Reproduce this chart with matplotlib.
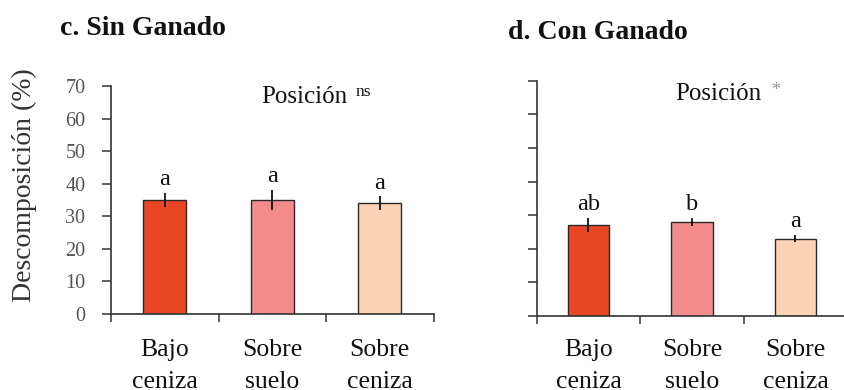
import matplotlib
matplotlib.use("Agg")
import matplotlib.pyplot as plt
import matplotlib.transforms as mtransforms

# Data
categories = ["Bajo\nceniza", "Sobre\nsuelo", "Sobre\nceniza"]
sin_ganado_mean = [35, 35, 34]
sin_ganado_err = [2.1, 3.0, 2.1]
sin_ganado_letters = ["a", "a", "a"]
con_ganado_mean = [27, 28, 23]
con_ganado_err = [2.1, 1.1, 1.1]
con_ganado_letters = ["ab", "b", "a"]
y_ticks = [0, 10, 20, 30, 40, 50, 60, 70]
bar_colors = ["#E94623", "#F28C8C", "#FBD3B4"]

W, H = 844, 390
FONT = "Liberation Serif"
plt.rcParams["font.family"] = [FONT, "DejaVu Serif"]

fig = plt.figure(figsize=(W / 100, H / 100), dpi=100)
fig.patch.set_facecolor("white")


def fx(px):
    return px / W


def fy(py):
    return 1 - py / H


def panel(left, top, bottom, right, means, errs, letters, show_labels):
    ax = fig.add_axes([fx(left), fy(bottom), fx(right) - fx(left), fy(top) - fy(bottom)])
    x = list(range(len(categories)))
    ax.bar(x, means, width=0.4, color=bar_colors, edgecolor="#2a2a2a",
           linewidth=1.0, zorder=2)
    ax.errorbar(x, means, yerr=errs, fmt="none", ecolor="#111111",
                elinewidth=1.3, capsize=0, zorder=3)
    for xi, m, e, lab in zip(x, means, errs, letters):
        ax.annotate(lab, (xi, m + e), xytext=(0, 2), textcoords="offset points",
                    ha="center", va="bottom", fontsize=17.5, color="#111111")
    ax.set_xlim(-0.5, 2.5)
    ax.set_ylim(0, 70)
    for s in ("top", "right"):
        ax.spines[s].set_visible(False)
    for s in ("left", "bottom"):
        ax.spines[s].set_color("#333333")
        ax.spines[s].set_linewidth(1.2)
    ax.set_yticks(y_ticks)
    if show_labels:
        ax.set_yticklabels([str(v) for v in y_ticks], fontsize=14.5, color="#555555")
    else:
        ax.set_yticklabels([])
    ax.tick_params(axis="y", direction="out", length=6.5, width=1.1, color="#333333", pad=12)
    ax.set_xticks([-0.5, 0.5, 1.5, 2.5])
    ax.set_xticklabels([])
    ax.tick_params(axis="x", direction="out", length=6, width=1.1, color="#333333")
    tr = mtransforms.blended_transform_factory(ax.transData, fig.transFigure)
    for xi, lab in zip(x, categories):
        ax.text(xi, fy(366), lab, transform=tr, ha="center", va="center",
                fontsize=18.5, linespacing=1.6, color="#111111", clip_on=False)
    return ax


ax1 = panel(111, 86, 314, 433.5, sin_ganado_mean, sin_ganado_err,
            sin_ganado_letters, True)
ax2 = panel(536.7, 80.7, 316, 847.2, con_ganado_mean, con_ganado_err,
            con_ganado_letters, False)

# Panel titles
fig.text(fx(60), fy(35), "c. Sin Ganado", ha="left", va="baseline",
         fontsize=20, fontweight="bold", color="#111111")
fig.text(fx(508), fy(39), "d. Con Ganado", ha="left", va="baseline",
         fontsize=20, fontweight="bold", color="#111111")

# Significance of position effect
fig.text(fx(261), fy(103), "Posición", ha="left", va="baseline",
         fontsize=18, color="#111111")
fig.text(fx(356), fy(96), "ns", ha="left", va="baseline",
         fontsize=12.5, color="#111111")
fig.text(fx(675), fy(100), "Posición", ha="left", va="baseline",
         fontsize=18, color="#111111")
fig.text(fx(771), fy(95), "*", ha="left", va="baseline",
         fontsize=13, color="#999999")

# Y axis title
fig.text(fx(24), fy(185), "Descomposición (%)", rotation=90, ha="center",
         va="center", fontsize=20, color="#333333")

fig.savefig("out.png", dpi=100, facecolor="white")
